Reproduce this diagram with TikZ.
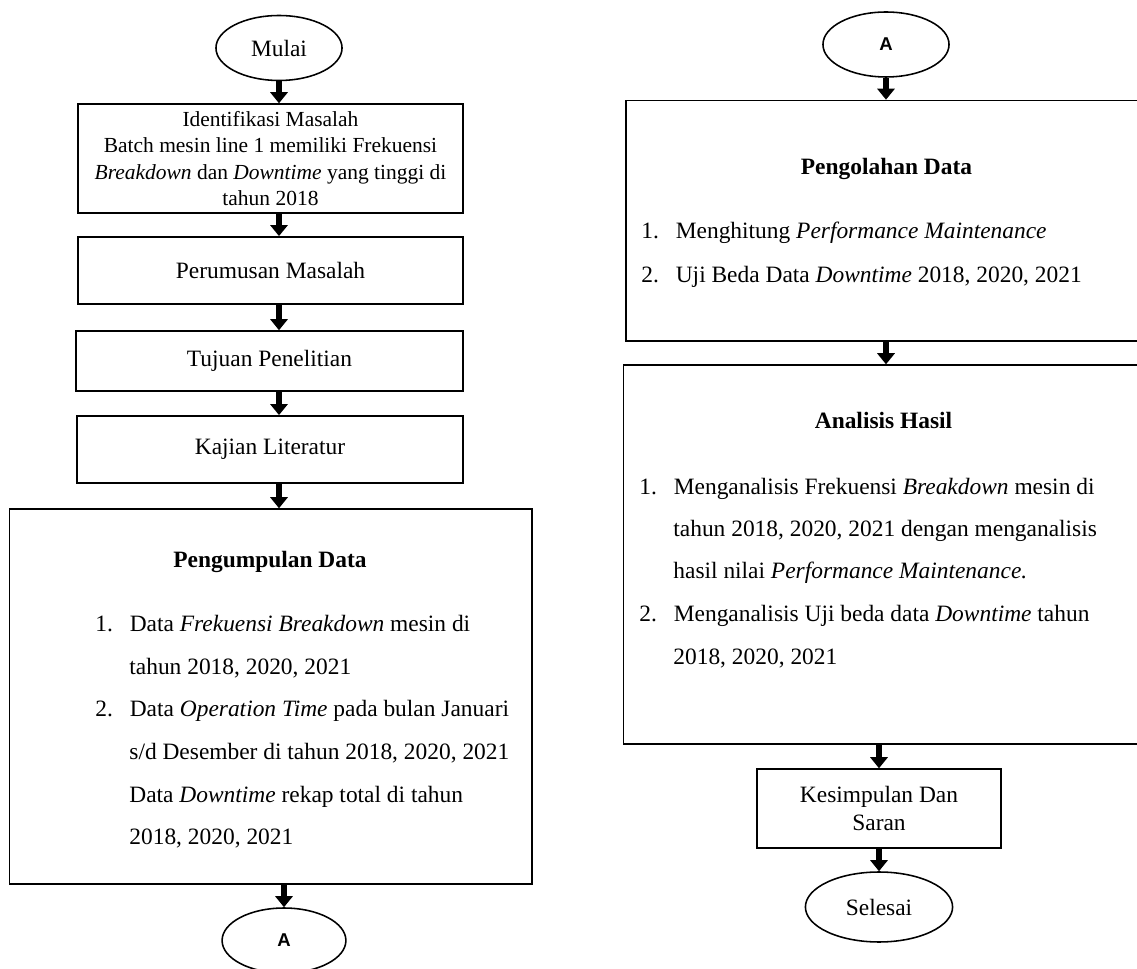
\documentclass[tikz,border=0pt]{standalone}
\usepackage{fontspec}
\setmainfont{Liberation Serif}
\newfontfamily\connfont{Liberation Sans}
\usepackage{tikz}
\usetikzlibrary{shapes.geometric, arrows.meta, positioning}

\newcommand{\mainsize}{\fontsize{12}{14.3}\selectfont}
\newcommand{\smallsize}{\fontsize{11}{13.5}\selectfont}
\newcommand{\connsize}{\connfont\bfseries\fontsize{9.5}{11}\selectfont}
\newcommand{\itemno}[1]{\makebox[0.62cm][l]{#1}}

\tikzset{
  terminal/.style={ellipse, draw, line width=0.8pt, inner sep=0pt},
  stepbox/.style={rectangle, draw, line width=0.8pt, align=center, inner sep=0pt},
  flow/.style={line width=0.108cm, -{Triangle[width=0.31cm, length=0.2cm]}},
  listline/.style={anchor=base west, inner sep=0pt},
  heading/.style={anchor=base, inner sep=0pt, font=\mainsize\bfseries},
}

\begin{document}
\begin{tikzpicture}[x=0.018cm, y=-0.018cm, font=\mainsize]
  \useasboundingbox (0,0) rectangle (1137,969);
  \clip (0,0) rectangle (1137,969);

  % left column
  \node[terminal, minimum width=2.27cm, minimum height=1.17cm] (mulai) at (279,48) {Mulai};
  \node[stepbox, minimum width=6.93cm, minimum height=1.96cm, font=\smallsize] (identifikasi) at (270.5,158.5)
    {Identifikasi Masalah\\ Batch mesin line 1 memiliki Frekuensi\\ \textit{Breakdown} dan \textit{Downtime} yang tinggi di\\ tahun 2018};
  \node[stepbox, minimum width=6.93cm, minimum height=1.21cm] (perumusan) at (270.5,270.5) {Perumusan Masalah};
  \node[stepbox, minimum width=6.97cm, minimum height=1.08cm] (tujuan) at (269.5,361) {Tujuan Penelitian};
  \node[stepbox, minimum width=6.95cm, minimum height=1.21cm] (kajian) at (270,449.5) {Kajian Literatur};
  \node[stepbox, minimum width=9.41cm, minimum height=6.75cm] (pengumpulan) at (270.75,696.5) {};
  \node[heading] (pengumpulanT) at (270,568) {Pengumpulan Data};
  \node[listline] (kumpul1) at (95,632) {\itemno{1.}Data \textit{Frekuensi Breakdown} mesin di};
  \node[listline] (kumpul1b) at (129,674) {tahun 2018, 2020, 2021};
  \node[listline] (kumpul2) at (95,717) {\itemno{2.}Data \textit{Operation Time} pada bulan Januari};
  \node[listline] (kumpul2b) at (129,759) {s/d Desember di tahun 2018, 2020, 2021};
  \node[listline] (kumpul2c) at (129,802) {Data \textit{Downtime} rekap total di tahun};
  \node[listline] (kumpul2d) at (129,844) {2018, 2020, 2021};
  \node[terminal, minimum width=2.23cm, minimum height=1.17cm, font=\connsize] (konektorA) at (284,940.5) {A};

  % right column
  \node[terminal, minimum width=2.27cm, minimum height=1.17cm, font=\connsize] (konektorB) at (886,44.5) {A};
  \node[stepbox, minimum width=9.61cm, minimum height=4.33cm] (pengolahan) at (893,220.75) {};
  \node[heading] (pengolahanT) at (886.5,175) {Pengolahan Data};
  \node[listline] (olah1) at (641,239) {\itemno{1.}Menghitung \textit{Performance Maintenance}};
  \node[listline] (olah2) at (641,283) {\itemno{2.}Uji Beda Data \textit{Downtime} 2018, 2020, 2021};
  \node[stepbox, minimum width=9.66cm, minimum height=6.82cm] (analisis) at (891.8,554.5) {};
  \node[heading] (analisisT) at (883.5,429) {Analisis Hasil};
  \node[listline] (analisis1) at (639,495) {\itemno{1.}Menganalisis Frekuensi \textit{Breakdown} mesin di};
  \node[listline] (analisis1b) at (673,537) {tahun 2018, 2020, 2021 dengan menganalisis};
  \node[listline] (analisis1c) at (673,579) {hasil nilai \textit{Performance Maintenance.}};
  \node[listline] (analisis2) at (639,622) {\itemno{2.}Menganalisis Uji beda data \textit{Downtime} tahun};
  \node[listline] (analisis2b) at (673,664) {2018, 2020, 2021};
  \node[stepbox, minimum width=4.39cm, minimum height=1.42cm] (kesimpulan) at (879,808.5) {Kesimpulan Dan\\ Saran};
  \node[terminal, minimum width=2.65cm, minimum height=1.26cm] (selesai) at (879,907) {Selesai};

  % connectors
  \draw[flow] (mulai.south) -- (mulai.south |- identifikasi.north);
  \draw[flow] (mulai.south |- identifikasi.south) -- (mulai.south |- perumusan.north);
  \draw[flow] (mulai.south |- perumusan.south) -- (mulai.south |- tujuan.north);
  \draw[flow] (mulai.south |- tujuan.south) -- (mulai.south |- kajian.north);
  \draw[flow] (mulai.south |- kajian.south) -- (mulai.south |- pengumpulan.north);
  \draw[flow] (konektorA.north |- pengumpulan.south) -- (konektorA.north);
  \draw[flow] (konektorB.south) -- (konektorB.south |- pengolahan.north);
  \draw[flow] (konektorB.south |- pengolahan.south) -- (konektorB.south |- analisis.north);
  \draw[flow] (kesimpulan.north |- analisis.south) -- (kesimpulan.north);
  \draw[flow] (kesimpulan.south) -- (selesai.north);
\end{tikzpicture}
\end{document}
